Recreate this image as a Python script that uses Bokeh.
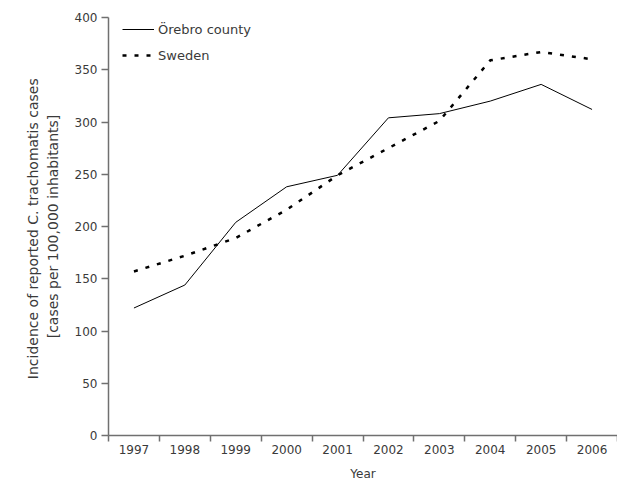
from bokeh.plotting import figure
from bokeh.models import FixedTicker, Range1d, Legend, LegendItem, ColumnDataSource
from bokeh.embed import file_html
from bokeh.resources import INLINE

years = ["1997", "1998", "1999", "2000", "2001", "2002", "2003", "2004", "2005", "2006"]
orebro = [122, 144, 204, 238, 249, 304, 308, 320, 336, 312]
sweden = [157, 172, 189, 216, 249, 275, 301, 359, 367, 360]
y_ticks = [0, 50, 100, 150, 200, 250, 300, 350, 400]

FONT = "DejaVu Sans"
TXT = "#3a3a3a"
AX = "#707070"

xpos = [i + 0.5 for i in range(len(years))]
src = ColumnDataSource(dict(x=xpos, o=orebro, s=sweden))

p = figure(width=617, height=483, output_backend="svg", toolbar_location=None,
           x_range=Range1d(0, len(years)), y_range=Range1d(0, 400),
           min_border_left=108, min_border_top=17, min_border_bottom=47, min_border_right=0)
p.outline_line_color = None
p.grid.grid_line_color = None

r1 = p.line("x", "o", source=src, line_color="black", line_width=1)
r2 = p.line("x", "s", source=src, line_color="black", line_width=2.5, line_dash="4 8")

xa = p.xaxis[0]
xa.ticker = FixedTicker(ticks=xpos, minor_ticks=list(range(len(years) + 1)))
xa.major_label_overrides = {x: y for x, y in zip(xpos, years)}
xa.major_tick_out = 0
xa.major_tick_in = 0
xa.minor_tick_out = 6
xa.minor_tick_in = 0
xa.minor_tick_line_color = AX
xa.minor_tick_line_width = 1.5
xa.axis_line_color = AX
xa.axis_line_width = 1.5
xa.axis_label = "Year"
xa.major_label_standoff = 3
xa.axis_label_standoff = 10

ya = p.yaxis[0]
ya.ticker = FixedTicker(ticks=y_ticks)
ya.minor_tick_line_color = None
ya.major_tick_out = 7
ya.major_tick_in = 0
ya.axis_line_color = AX
ya.axis_line_width = 1.5
ya.major_tick_line_color = AX
ya.major_tick_line_width = 1.5
ya.major_label_standoff = 4
ya.axis_label = "Incidence of reported C. trachomatis  cases\n[cases per 100,000 inhabitants]"

for ax in (xa, ya):
    ax.major_label_text_font = FONT
    ax.major_label_text_font_size = "12px"
    ax.major_label_text_color = TXT
    ax.axis_label_text_font = FONT
    ax.axis_label_text_font_style = "normal"
    ax.axis_label_text_color = TXT
xa.axis_label_text_font_size = "12px"
ya.axis_label_text_font_size = "14px"
ya.axis_label_standoff = 11

legend = Legend(items=[LegendItem(label="Örebro county", renderers=[r1]),
                       LegendItem(label="Sweden", renderers=[r2])],
                location=(14, 370), border_line_color=None, background_fill_alpha=0,
                label_text_font=FONT, label_text_font_size="13px", label_text_color=TXT,
                glyph_width=32, glyph_height=20, label_height=20, label_standoff=4,
                spacing=6, margin=0, padding=3)
p.add_layout(legend)

open("out.html", "w").write(file_html(p, INLINE))
